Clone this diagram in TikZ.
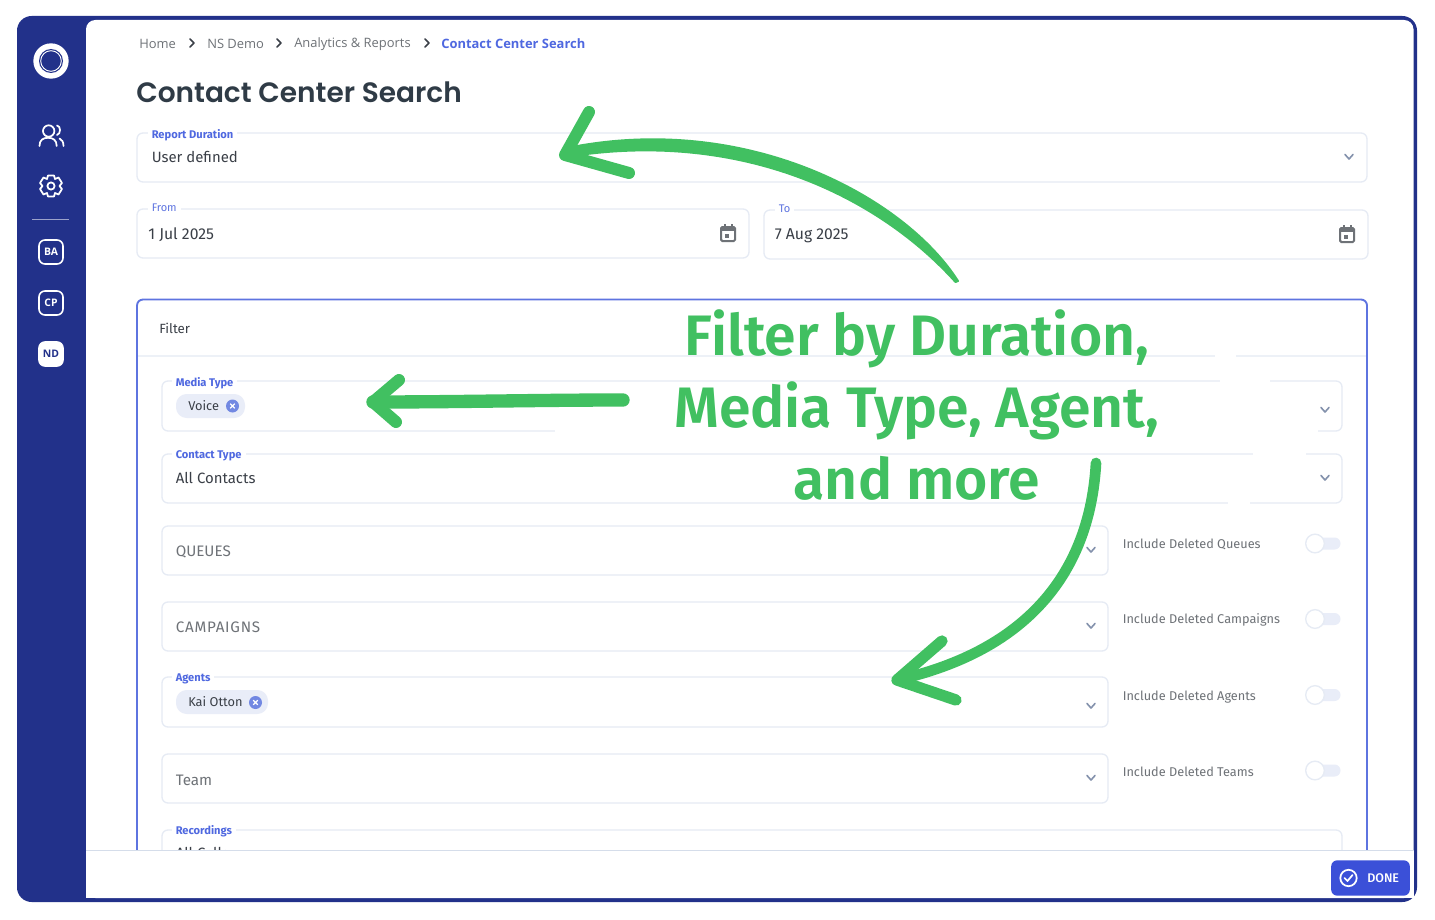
\documentclass[tikz,border=0pt]{standalone}
\usepackage{fontspec}
\setmainfont{Noto Sans}
\newfontfamily\plex{Fira Sans}
\newfontfamily\plexmed{Fira Sans Medium}
\newfontfamily\crumb{Open Sans}
\newfontfamily\headf{Poppins SemiBold}
\newfontfamily\overlayf{Fira Sans SemiBold}
\definecolor{navy}{HTML}{22318A}
\definecolor{blueline}{HTML}{5E74E0}
\definecolor{labelblue}{HTML}{4F68E0}
\definecolor{fieldline}{HTML}{E6EBF4}
\definecolor{ink}{HTML}{3A3F47}
\definecolor{muted}{HTML}{6E7277}
\definecolor{chipbg}{HTML}{E9EDF8}
\definecolor{chipx}{HTML}{7288E2}
\definecolor{chev}{HTML}{8391AC}
\definecolor{green}{HTML}{41C061}
\definecolor{donebg}{HTML}{3B50D8}
\definecolor{head}{HTML}{2F3B46}
\definecolor{footline}{HTML}{D5DDEA}
\tikzset{
  field/.style={draw=fieldline,line width=1pt,rounded corners=4.5pt,fill=white},
  lab/.style={anchor=west,font=\plex\fontsize{8.35}{9}\selectfont\bfseries,text=labelblue,fill=white,inner xsep=3pt,inner ysep=0pt},
  lablight/.style={anchor=west,font=\plex\fontsize{8.3}{9}\selectfont,text=blueline,fill=white,inner xsep=3pt,inner ysep=0pt},
  val/.style={anchor=west,font=\plex\fontsize{11.2}{13}\selectfont,text=ink,inner sep=0pt},
  dateval/.style={anchor=west,font=\plex\fontsize{11.8}{13}\selectfont,text=ink,inner sep=0pt},
  ph/.style={anchor=west,font=\plex\fontsize{11.4}{13}\selectfont,text=muted,inner sep=0pt},
  opt/.style={anchor=west,font=\plex\fontsize{9.55}{11}\selectfont,text=muted,inner sep=0pt},
  chevr/.style={draw=chev,line width=1.2pt,line cap=round,line join=round},
  crumbn/.style={anchor=west,font=\crumb\fontsize{9.7}{12}\selectfont,text=muted,inner sep=0pt},
  sep/.style={draw=ink,line width=1.1pt,line cap=round,line join=round},
  badge/.style={draw=white,line width=1.2pt,rounded corners=4.5pt,minimum width=18pt,minimum height=18pt,inner sep=0pt,font=\crumb\fontsize{7.8}{8}\selectfont\bfseries,text=white},
  arrowpen/.style={draw=green,line width=9pt,line cap=round,line join=round},
  overlayt/.style={anchor=base,font=\overlayf\fontsize{42.8}{54}\selectfont,text=green,inner sep=0pt,align=center},
  knob/.style={circle,draw=fieldline,line width=1pt,fill=white,minimum size=14pt,inner sep=0pt},
  tog/.style={fill=chipbg,rounded corners=4.5pt},
  chiptxt/.style={anchor=west,font=\plex\fontsize{9.6}{11}\selectfont,text=ink,inner sep=0pt},
  patch/.style={fill=white,draw=none},
}
\newcommand{\chevron}[2]{\draw[chevr] (#1-4,#2-2.5) -- (#1,#2+2) -- (#1+4,#2-2.5);}
\newcommand{\toggle}[2]{%
  \fill[tog] (#1,#2-6) rectangle (#1+25.5,#2+6);
  \node[knob] at (#1,#2) {};}
\newcommand{\chipx}[2]{%
  \fill[chipx] (#1,#2) circle (6.5);
  \draw[white,line width=.9pt] (#1-2.3,#2-2.3) -- (#1+2.3,#2+2.3) (#1-2.3,#2+2.3) -- (#1+2.3,#2-2.3);}
\newcommand{\calicon}[2]{%
  \draw[muted,line width=1.5pt,rounded corners=1pt] (#1-7,#2-6) rectangle (#1+7,#2+8);
  \fill[muted] (#1-7,#2-6) rectangle (#1+7,#2-2);
  \fill[muted] (#1-4.5,#2-9) rectangle (#1-2.5,#2-5);
  \fill[muted] (#1+2.5,#2-9) rectangle (#1+4.5,#2-5);
  \fill[muted] (#1-3,#2+0.5) rectangle (#1+1,#2+4.5);}
\begin{document}
\begin{tikzpicture}[x=.75pt,y=-.75pt]
\useasboundingbox (0,0) rectangle (1435,920);
\fill[white] (0,0) rectangle (1435,920);
% frame
\fill[navy,rounded corners=11pt] (17,16) rectangle (1417,902);
\fill[white,rounded corners=7pt] (86,20) rectangle (1413.5,898);
\fill[navy] (60,16) rectangle (86,902);
% sidebar
\node[circle,fill=white,minimum size=26.5pt,inner sep=0pt] (logo) at (51,61) {};
\fill[navy] (logo.center) circle (12);
\draw[white,line width=.7pt] (logo.center) circle (10.3);
% users icon
\draw[white,line width=1.3pt] (48.7,131) circle (5.7);
\draw[white,line width=1.3pt,line cap=round] (39.5,146) .. controls (39.5,140) and (43,137.8) .. (48,137.8) .. controls (53,137.8) and (56.7,140) .. (56.7,146);
\draw[white,line width=1.3pt,line cap=round] (57,125.5) .. controls (61,126) and (61,134) .. (57,135);
\draw[white,line width=1.3pt,line cap=round] (63.5,146) .. controls (63.5,142) and (62,139.5) .. (59.5,138.5);
% gear icon
\draw[white,line width=1.3pt] (51,186) circle (3.6);
\draw[white,line width=1.3pt,line join=round] (48,175.5) -- (54,175.5) -- (55,179) -- (58.5,177.5) -- (62,183) -- (59.5,186) -- (62,189) -- (58.5,194.5) -- (55,193) -- (54,196.5) -- (48,196.5) -- (47,193) -- (43.5,194.5) -- (40,189) -- (42.5,186) -- (40,183) -- (43.5,177.5) -- (47,179) -- cycle;
\draw[white!55!navy,line width=.8pt] (32,219.5) -- (69,219.5);
\node[badge] (ba) at (51,252) {BA};
\node[badge] (cp) at (51,303) {CP};
\node[badge,fill=white,text=navy] (nd) at (51,354) {ND};
% breadcrumb
\node[crumbn] (c1) at (139,43.7) {Home};
\draw[sep] (190,39) -- (194,43) -- (190,47);
\node[crumbn] (c2) at (207,43.7) {NS Demo};
\draw[sep] (277,39) -- (281,43) -- (277,47);
\node[crumbn] (c3) at (294,43.7) {Analytics \& Reports};
\draw[sep] (425,39) -- (429,43) -- (425,47);
\node[crumbn,text=labelblue,font=\crumb\fontsize{9.7}{12}\selectfont\bfseries] (c4) at (441,43.7) {Contact Center Search};
\node[anchor=west,inner sep=0pt,font=\headf\fontsize{21}{26}\selectfont,text=head] (title) at (136,92) {Contact Center Search};
% report duration
\draw[field] (137,133) rectangle (1367,182);
\node[lab] (rd) at (147.5,135) {Report Duration};
\node[val] (ud) at (151.5,157) {User defined};
\chevron{1349}{157}
% dates
\draw[field] (137,209) rectangle (749,258);
\node[lablight] (fr) at (147.5,208) {From};
\node[dateval] (fd) at (148,235) {1 Jul 2025};
\calicon{728}{233}
\draw[field] (764,210) rectangle (1368,259);
\node[lablight] (to) at (774.5,209) {To};
\node[dateval] (td) at (774.5,236) {7 Aug 2025};
\calicon{1347}{234}
% filter panel
\draw[blueline,line width=1.4pt,rounded corners=4.5pt] (137,851) -- (137,299.5) -- (1367,299.5) -- (1367,851);
\node[anchor=west,inner sep=0pt,font=\plex\fontsize{10}{12}\selectfont,text=ink] (flt) at (159,328) {Filter};
\draw[fieldline!70!white,line width=1.2pt] (138,356) -- (1366,356);
% media
\draw[field] (162,381) rectangle (1342,431);
\node[lab] (mt) at (171.5,383) {Media Type};
\fill[chipbg,rounded corners=8pt] (176,394) rectangle (245,418);
\node[chiptxt] (voice) at (188,406) {Voice};
\chipx{232.5}{406}
\chevron{1325}{410}
% contact
\draw[field] (162,454) rectangle (1342,503);
\node[lab] (ct) at (171.5,456) {Contact Type};
\node[val] (ac) at (175.5,478) {All Contacts};
\chevron{1325}{478}
% queues
\draw[field] (162,526) rectangle (1108,575);
\node[ph] (q) at (175.5,552) {QUEUES};
\chevron{1091}{550}
\node[opt] (oq) at (1122.5,544) {Include Deleted Queues};
\toggle{1315}{543.5}
% campaigns
\draw[field] (162,602) rectangle (1108,651);
\node[ph,font=\plex\fontsize{11.4}{13}\selectfont\addfontfeature{LetterSpace=5}] (cg) at (175.5,627) {CAMPAIGNS};
\chevron{1091}{626}
\node[opt] (oc) at (1122.5,620) {Include Deleted Campaigns};
\toggle{1315}{619}
% agents
\draw[field] (162,677) rectangle (1108,727);
\node[lab] (ag) at (171.5,679) {Agents};
\fill[chipbg,rounded corners=8pt] (176,690) rectangle (268,714);
\node[chiptxt] (kai) at (188,702) {Kai Otton};
\chipx{255.5}{702.5}
\chevron{1091}{706}
\node[opt] (oa) at (1122.5,697) {Include Deleted Agents};
\toggle{1315}{695}
% team
\draw[field] (162,754) rectangle (1108,803);
\node[ph] (tm) at (175.5,780) {Team};
\chevron{1091}{778}
\node[opt] (ot) at (1122.5,772) {Include Deleted Teams};
\toggle{1315}{770.5}
% recordings (clipped by footer)
\begin{scope}
\clip (150,820) rectangle (1350,850);
\draw[field] (162,830) rectangle (1342,880);
\node[val] (all) at (175.5,853) {All Calls};
\end{scope}
\node[lab] (rc) at (171.5,831) {Recordings};
% footer
\fill[white] (86,851) rectangle (1413.5,897.5);
\draw[footline,line width=1.2pt] (86,850.5) -- (1413.5,850.5);
\node[fill=donebg,rounded corners=4.5pt,minimum width=59pt,minimum height=26.5pt,inner sep=0pt] (done) at (1370.5,878) {};
\draw[white,line width=1.3pt] (1348.5,878) circle (8.2);
\draw[white,line width=1.3pt,line cap=round,line join=round] (1344.5,878) -- (1347.5,881) -- (1352.5,875);
\node[anchor=west,inner sep=0pt,font=\plexmed\fontsize{9.4}{11}\selectfont,text=white] (dn) at (1367,878) {DONE};
% white patches left by the overlay
\fill[patch] (1215,350) rectangle (1236,361);
\fill[patch] (1220,375) rectangle (1270,385);
\fill[patch] (555,426) rectangle (1318,436);
\fill[patch] (1253,449) rectangle (1306,459);
\fill[patch] (1228,498) rectangle (1250,508);
% overlay text
\node[overlayt] (t1) at (917,355) {Filter by Duration,};
\node[overlayt] (t2) at (917,427) {Media Type, Agent,};
\node[overlayt] (t3) at (917,499) {and more};
% arrows
\coordinate (a1s) at (957,282);
\coordinate (a1e) at (565,155);
\coordinate (a1u) at (589,112);
\coordinate (a1d) at (629,173);
\coordinate (a2s) at (623,400);
\coordinate (a2e) at (373,402);
\coordinate (a2u) at (399,380);
\coordinate (a2d) at (396,422);
\coordinate (a3s) at (1096,463);
\coordinate (a3e) at (897,680);
\coordinate (a3u) at (942,641);
\coordinate (a3d) at (956,700);
\fill[green,draw=green,line width=1.5pt,line join=round] (958,281) .. controls (905,198) and (750,113) .. (572,147) -- (572,156) .. controls (745,130) and (880,198) .. (955.5,282) -- cycle;
\draw[arrowpen] (a1u) -- (a1e) -- (a1d);
\draw[arrowpen,line width=10pt] (a2s) .. controls (540,400) and (460,402) .. (a2e);
\draw[arrowpen] (a2u) -- (a2e) -- (a2d);
\draw[arrowpen,line width=8pt] (a3s) .. controls (1090,570) and (1030,650) .. (a3e);
\draw[arrowpen,line width=8.5pt] (a3u) -- (a3e) -- (a3d);
\end{tikzpicture}
\end{document}
